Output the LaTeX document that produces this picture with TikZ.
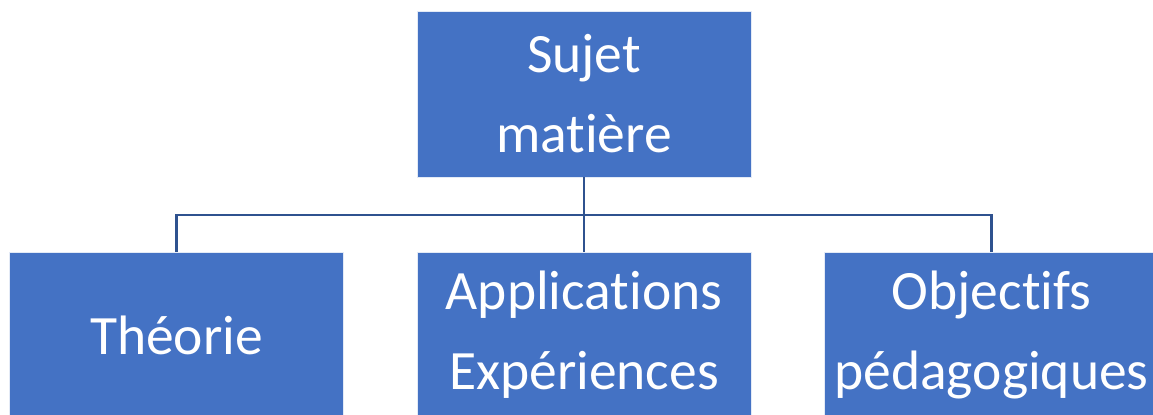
\documentclass[tikz,border=0pt]{standalone}
\usepackage{fontspec}
\setmainfont[Ligatures=NoCommon]{Carlito}
\usetikzlibrary{calc}
\definecolor{boxblue}{HTML}{4472C4}
\definecolor{linkblue}{HTML}{2F528F}
\def\xsep{407.5}
\def\topY{94}
\def\botY{335}

\begin{document}
\begin{tikzpicture}[
    x=0.02cm, y=-0.02cm,
    box/.style={
      rectangle, fill=boxblue, draw=white!85!boxblue, line width=0.4pt,
      minimum width=6.68cm, minimum height=3.32cm,
      text=white, align=center,
      font=\fontsize{31.6}{45.5}\selectfont
    },
    link/.style={
      draw=linkblue, line width=1.2pt
    }
  ]
    \useasboundingbox (0,0) rectangle (1153,414);
    \clip (0,0) rectangle (1153,414);

    \node[box] (Sujet) at (584,\topY) {Sujet\\matière};

    \node[box] (Theorie)      at (584-\xsep,\botY) {Théorie};
    \node[box] (Applications) at (584,\botY)       {Applications\\Expériences};
    \node[box] (Objectifs)    at (584+\xsep,\botY) {Objectifs\\pédagogiques};

    \draw[link] (Sujet.south) -- ++(0,38) -| (Theorie.north);
    \draw[link] (Sujet.south) -- ++(0,38) -| (Objectifs.north);
    \draw[link] (Sujet.south) -- (Applications.north);
  \end{tikzpicture}
\end{document}
